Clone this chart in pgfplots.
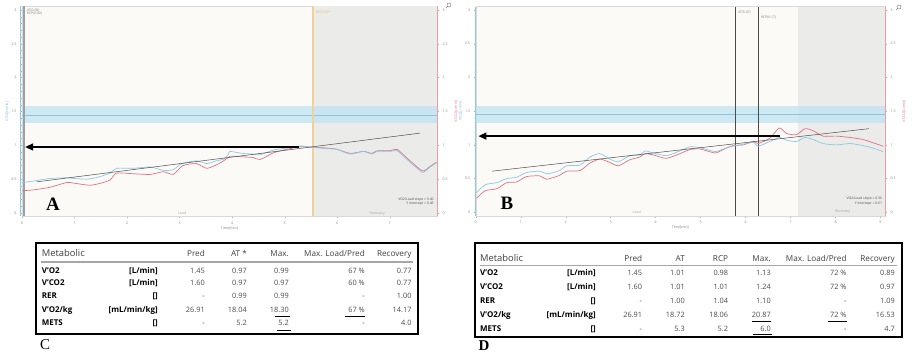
\documentclass[border=0pt]{standalone}
\usepackage{pgfplots}
\pgfplotsset{compat=1.18}
\usepackage{fontspec}
\setmainfont{Open Sans}
\newfontfamily\letterfont{Liberation Serif}
\usetikzlibrary{arrows.meta}
\definecolor{vo2}{HTML}{8ACAE6}
\definecolor{vo2dark}{HTML}{6FB7DB}
\definecolor{vco2}{HTML}{DE7385}
\definecolor{bandc}{HTML}{BFE2F4}
\definecolor{bandline}{HTML}{8DC3DE}
\definecolor{recov}{HTML}{EBEBE9}
\definecolor{loadbg}{HTML}{FBFAF6}
\definecolor{atorange}{HTML}{F0D198}
\definecolor{atorangetxt}{HTML}{E2B86A}
\definecolor{numgray}{HTML}{4A4A4A}
\definecolor{hdgray}{HTML}{404040}
\newcommand\tickf{\fontsize{3.6}{4}\selectfont}
\newcommand\numf{\fontsize{7.4}{8}\selectfont\color{numgray}}
\newcommand\hdf{\fontsize{8.2}{9}\selectfont\color{hdgray}}
\newcommand\lbf{\fontsize{8}{9}\selectfont\bfseries}
\pgfplotsset{
  panel/.style={
    scale only axis, anchor=south west,
    ymin=-0.05, ymax=3.05,
    axis background/.style={fill=loadbg},
    axis line style={draw=gray!30, line width=0.4bp},
    ytick={0,0.5,1,1.5,2,2.5,3},
    yticklabels={0,0.5,1,1.5,2,2.5,3},
    minor x tick num=4, minor y tick num=4,
    tick align=outside, major tick length=2bp, minor tick length=1bp,
    tick style={gray!60, line width=0.3bp},
    ticklabel style={font=\tickf, text=gray},
    /pgf/number format/assume math mode=true,
    xtick pos=bottom, ytick pos=left,
    xlabel={Time[min]}, xlabel style={font=\tickf, text=gray, yshift=5bp},
    ylabel={V'O2[L/min]}, ylabel style={font=\tickf, text=vo2dark, yshift=-4bp},
    clip=false,
  },
  rightpanel/.style={
    scale only axis, anchor=south west,
    ymin=-0.05, ymax=3.05,
    hide x axis, axis y line*=right,
    axis line style={draw=vco2!70, line width=0.6bp},
    ytick={0,0.5,1,1.5,2,2.5,3},
    yticklabels={0,0.5,1,1.5,2,2.5,3},
    minor y tick num=4,
    tick align=outside, major tick length=2bp, minor tick length=1bp,
    tick style={gray!60, line width=0.3bp},
    ticklabel style={font=\tickf, text=gray},
    /pgf/number format/assume math mode=true,
    ylabel={V'CO2[L/min]}, ylabel style={font=\tickf, text=vco2},
  },
}
\begin{document}
\begin{tikzpicture}
\begin{scope}[x=1bp,y=1bp]
\useasboundingbox (0,0) rectangle (922,360);
\end{scope}
% ---------------- Panel A ----------------
\begin{axis}[panel, at={(22bp,143.6bp)}, width=415bp, height=209.9bp,
  xmin=0, xmax=7.9, xtick={0,...,7}]
  \fill[recov] (axis cs:5.54,-0.05) rectangle (axis cs:7.9,3.05);
  \fill[bandc, opacity=0.75] (axis cs:0,1.33) rectangle (axis cs:7.9,1.58);
  \draw[bandline, line width=0.5bp] (axis cs:0,1.45) -- (axis cs:7.9,1.45);
  \draw[atorange, line width=1.3bp] (axis cs:5.54,-0.05) -- (axis cs:5.54,3.05);
  \draw[gray!75, line width=2bp] (axis cs:0.03,-0.05) -- (axis cs:0.03,3.05);
  \draw[vo2, line width=0.8bp] ([xshift=-2bp]rel axis cs:0,0) -- ([xshift=-2bp]rel axis cs:0,1);
  \node[anchor=north west, font=\fontsize{3.4}{4}\selectfont, text=gray, align=left, inner sep=0.5bp] at (axis cs:0.08,3.03) {AT(0:00)\\RCP(0:00)};
  \node[anchor=north west, font=\fontsize{3.4}{4}\selectfont, text=atorangetxt, inner sep=0.5bp] at (axis cs:5.58,3.0) {AT(5:32)*};
  \node[anchor=south, font=\tickf, text=gray!70, inner sep=0.5bp] at (axis cs:3.05,-0.04) {Load};
  \node[anchor=south, font=\tickf, text=gray!70, inner sep=0.5bp] at (axis cs:6.76,-0.04) {Recovery};
  \node[anchor=south east, font=\fontsize{3.4}{4.2}\selectfont, text=black!70, align=right, inner sep=0.5bp] at (axis cs:7.85,0.1) {VO2/Load slope = 9.40\\Y intercept = 0.46};
  \addplot[vco2, line width=0.7bp, smooth, tension=0.4] coordinates {
   (0,0.33) (0.2,0.34) (0.53,0.38) (0.85,0.45) (1.0,0.44) (1.29,0.41) (1.5,0.44) (1.68,0.49) (1.8,0.59) (2.12,0.58) (2.44,0.57) (2.69,0.61) (2.88,0.57) (3.06,0.70) (3.32,0.73) (3.52,0.66) (3.75,0.73) (3.93,0.82) (3.96,0.84) (4.2,0.83) (4.4,0.82) (4.53,0.79) (4.79,0.89) (5.04,0.94) (5.3,0.98) (5.54,0.97) (5.8,0.96) (6.0,0.94) (6.25,0.88) (6.5,0.91) (6.66,0.88) (6.76,0.92) (7.01,0.92) (7.14,0.94) (7.33,0.81) (7.52,0.68) (7.64,0.62) (7.77,0.69) (7.89,0.75)};
  \addplot[vo2, line width=0.7bp, smooth, tension=0.4] coordinates {
   (0,0.45) (0.2,0.47) (0.53,0.51) (0.85,0.52) (1.0,0.51) (1.23,0.50) (1.45,0.53) (1.68,0.59) (1.8,0.66) (2.12,0.66) (2.44,0.68) (2.69,0.63) (2.88,0.64) (3.04,0.73) (3.32,0.77) (3.52,0.73) (3.7,0.77) (3.85,0.80) (3.93,0.87) (3.96,0.91) (4.2,0.88) (4.4,0.87) (4.53,0.86) (4.79,0.93) (5.04,0.96) (5.3,0.99) (5.54,0.97) (5.8,0.95) (6.0,0.94) (6.25,0.87) (6.5,0.91) (6.66,0.87) (6.76,0.91) (7.01,0.91) (7.14,0.92) (7.33,0.79) (7.52,0.66) (7.64,0.60) (7.77,0.68) (7.89,0.74)};
  \addplot[black!70, line width=0.5bp] coordinates {(0.28,0.46) (7.58,1.18)};
  \addplot[black, line width=1.3bp, -{Triangle[length=8bp,width=7bp]}] coordinates {(5.28,0.975) (0.06,0.975)};
\end{axis}
\begin{axis}[rightpanel, at={(22bp,143.6bp)}, width=415bp, height=209.9bp, xmin=0, xmax=7.9]
  \addplot[draw=none] coordinates {(1,1)};
\end{axis}
% ---------------- Panel B ----------------
\begin{axis}[panel, at={(475.7bp,144.3bp)}, width=409.3bp, height=209.1bp,
  xmin=0, xmax=9.1, xtick={0,...,9}]
  \fill[recov] (axis cs:7.17,-0.05) rectangle (axis cs:9.1,3.05);
  \fill[bandc, opacity=0.75] (axis cs:0,1.33) rectangle (axis cs:9.1,1.58);
  \draw[bandline, line width=0.5bp] (axis cs:0,1.46) -- (axis cs:9.1,1.46);
  \draw[black!70, line width=0.8bp] (axis cs:5.78,-0.05) -- (axis cs:5.78,3.05);
  \draw[black!70, line width=0.8bp] (axis cs:6.29,-0.05) -- (axis cs:6.29,3.05);
  \draw[vo2, line width=0.8bp] (rel axis cs:0,0) -- (rel axis cs:0,1);
  \node[anchor=north west, font=\fontsize{3.4}{4}\selectfont, text=gray, inner sep=0.5bp] at (axis cs:5.82,3.0) {AT(5:47)};
  \node[anchor=north west, font=\fontsize{3.4}{4}\selectfont, text=gray, inner sep=0.5bp] at (axis cs:6.33,2.92) {RCP(6:17)};
  \node[anchor=south, font=\tickf, text=gray!70, inner sep=0.5bp] at (axis cs:3.58,-0.03) {Load};
  \node[anchor=south, font=\tickf, text=gray!70, inner sep=0.5bp] at (axis cs:8.16,-0.03) {Recovery};
  \node[anchor=south east, font=\fontsize{3.4}{4.2}\selectfont, text=black!70, align=right, inner sep=0.5bp] at (axis cs:9.05,0.1) {VO2/Load slope = 6.36\\Y intercept = 0.61};
  \addplot[vco2, line width=0.7bp, smooth, tension=0.4] coordinates {
   (0.02,0.21) (0.21,0.32) (0.47,0.35) (0.69,0.44) (0.91,0.45) (1.13,0.53) (1.43,0.54) (1.58,0.49) (1.87,0.55) (2.02,0.61) (2.32,0.62) (2.54,0.73) (2.76,0.79) (2.98,0.74) (3.17,0.69) (3.43,0.78) (3.65,0.82) (3.76,0.87) (3.95,0.85) (4.24,0.80) (4.54,0.87) (4.76,0.93) (4.98,0.94) (5.32,0.88) (5.5,0.93) (5.72,0.99) (5.95,1.00) (6.17,1.05) (6.28,1.02) (6.54,1.10) (6.75,1.25) (6.91,1.17) (7.13,1.15) (7.32,1.24) (7.5,1.21) (7.72,1.13) (8.02,1.13) (8.32,1.11) (8.61,1.08) (8.84,1.03) (9.06,0.98)};
  \addplot[vo2, line width=0.7bp, smooth, tension=0.4] coordinates {
   (0.02,0.29) (0.21,0.41) (0.47,0.44) (0.69,0.50) (0.91,0.52) (1.13,0.59) (1.43,0.61) (1.58,0.57) (1.87,0.62) (2.02,0.69) (2.32,0.70) (2.54,0.82) (2.76,0.87) (2.98,0.79) (3.17,0.75) (3.43,0.84) (3.65,0.85) (3.76,0.91) (3.95,0.88) (4.24,0.84) (4.54,0.91) (4.76,0.97) (4.98,0.96) (5.32,0.90) (5.5,0.94) (5.72,0.98) (5.95,1.01) (6.17,1.04) (6.28,0.98) (6.54,1.05) (6.75,1.11) (6.91,1.07) (7.13,1.05) (7.32,1.11) (7.5,1.08) (7.72,1.02) (8.02,1.00) (8.32,1.02) (8.61,0.99) (8.84,0.95) (9.06,0.90)};
  \addplot[black!70, line width=0.5bp] coordinates {(0.36,0.61) (8.74,1.24)};
  \addplot[black, line width=1.3bp, -{Triangle[length=8bp,width=7bp]}] coordinates {(6.76,1.13) (0.06,1.13)};
\end{axis}
\begin{axis}[rightpanel, at={(475.7bp,144.3bp)}, width=409.3bp, height=209.1bp, xmin=0, xmax=9.1]
  \addplot[draw=none] coordinates {(1,1)};
\end{axis}
\begin{scope}[x=1bp,y=1bp]
% magnifier icons
\draw[gray, line width=0.5bp] (449,355) circle (2);
\draw[gray, line width=0.6bp] (447.6,353.6) -- (446,352);
\draw[gray, line width=0.5bp] (899,353) circle (2);
\draw[gray, line width=0.6bp] (897.6,351.6) -- (896,350);
% panel letters
\node[font=\letterfont\bfseries\fontsize{19}{20}\selectfont] at (53,156) {A};
\node[font=\letterfont\bfseries\fontsize{19}{20}\selectfont] at (507,157) {B};
\node[font=\letterfont\fontsize{15}{16}\selectfont] at (45,15) {C};
\node[font=\letterfont\bfseries\fontsize{15}{16}\selectfont] at (484,14) {D};
% ---------------- Table C ----------------
\draw[black, line width=1.2bp] (36,117) rectangle (418,26);
\draw[gray!70, line width=1.2bp] (41,98) -- (413,98);
\node[anchor=base west, inner sep=0, font=\fontsize{9.4}{10}\selectfont\color{hdgray}] at (41.7,104) {Metabolic};
\foreach \x/\t in {205/Pred, 247/{AT *}, 289/Max., 365/{Max. Load/Pred}, 411.7/Recovery}
  \node[anchor=base east, inner sep=0, font=\hdf] at (\x,104) {\t};
\foreach \y/\a/\b in {89.7/{V'O2}/{[L/min]}, 77.3/{V'CO2}/{[L/min]}, 64.7/RER/{[]}, 51/{V'O2/kg}/{[mL/min/kg]}, 37.7/METS/{[]}} {
  \node[anchor=base west, inner sep=0, font=\lbf] at (41.7,\y-3) {\a};
  \node[anchor=base east, inner sep=0, font=\lbf] at (158,\y-3) {\b};
}
\foreach \y/\p/\a/\m/\l/\r in {89.7/1.45/0.97/0.99/{67 \%}/0.77, 77.3/1.60/0.97/0.97/{60 \%}/0.77, 64.7/-/0.99/0.99/-/1.00, 51/26.91/18.04/18.30/{67 \%}/14.17, 37.7/-/5.2/5.2/-/4.0} {
  \node[anchor=base east, inner sep=0, font=\numf] at (205,\y-3) {\p};
  \node[anchor=base east, inner sep=0, font=\numf] at (247,\y-3) {\a};
  \node[anchor=base east, inner sep=0, font=\numf] at (289,\y-3) {\m};
  \node[anchor=base east, inner sep=0, font=\numf] at (365,\y-3) {\l};
  \node[anchor=base east, inner sep=0, font=\numf] at (411.7,\y-3) {\r};
}
\draw[black, line width=0.9bp] (275,44) -- (290,44);
\draw[black, line width=0.9bp] (277,30) -- (291,30);
\draw[black, line width=0.9bp] (345,44) -- (365,44);
% ---------------- Table D ----------------
\draw[black, line width=1.2bp] (475,117) rectangle (902,23);
\draw[gray!70, line width=1.2bp] (480,94.3) -- (897,94.3);
\node[anchor=base west, inner sep=0, font=\fontsize{9.4}{10}\selectfont\color{hdgray}] at (480,99) {Metabolic};
\foreach \x/\t in {642.3/Pred, 685/AT, 728.3/RCP, 771/Max., 846.7/{Max. Load/Pred}, 895/Recovery}
  \node[anchor=base east, inner sep=0, font=\hdf] at (\x,99) {\t};
\foreach \y/\a/\b in {87.7/{V'O2}/{[L/min]}, 73.7/{V'CO2}/{[L/min]}, 59.3/RER/{[]}, 45.3/{V'O2/kg}/{[mL/min/kg]}, 32/METS/{[]}} {
  \node[anchor=base west, inner sep=0, font=\lbf] at (480,\y-3) {\a};
  \node[anchor=base east, inner sep=0, font=\lbf] at (596,\y-3) {\b};
}
\foreach \y/\p/\a/\c/\m/\l/\r in {87.7/1.45/1.01/0.98/1.13/{72 \%}/0.89, 73.7/1.60/1.01/1.01/1.24/{72 \%}/0.97, 59.3/-/1.00/1.04/1.10/-/1.09, 45.3/26.91/18.72/18.06/20.87/{72 \%}/16.53, 32/-/5.3/5.2/6.0/-/4.7} {
  \node[anchor=base east, inner sep=0, font=\numf] at (642.3,\y-3) {\p};
  \node[anchor=base east, inner sep=0, font=\numf] at (685,\y-3) {\a};
  \node[anchor=base east, inner sep=0, font=\numf] at (728.3,\y-3) {\c};
  \node[anchor=base east, inner sep=0, font=\numf] at (771,\y-3) {\m};
  \node[anchor=base east, inner sep=0, font=\numf] at (846.7,\y-3) {\l};
  \node[anchor=base east, inner sep=0, font=\numf] at (895,\y-3) {\r};
}
\draw[black, line width=0.9bp] (752,38.7) -- (771,38.7);
\draw[black, line width=0.9bp] (753,25.3) -- (772,25.3);
\draw[black, line width=0.9bp] (828,39) -- (847,39);
\end{scope}
\end{tikzpicture}
\end{document}
